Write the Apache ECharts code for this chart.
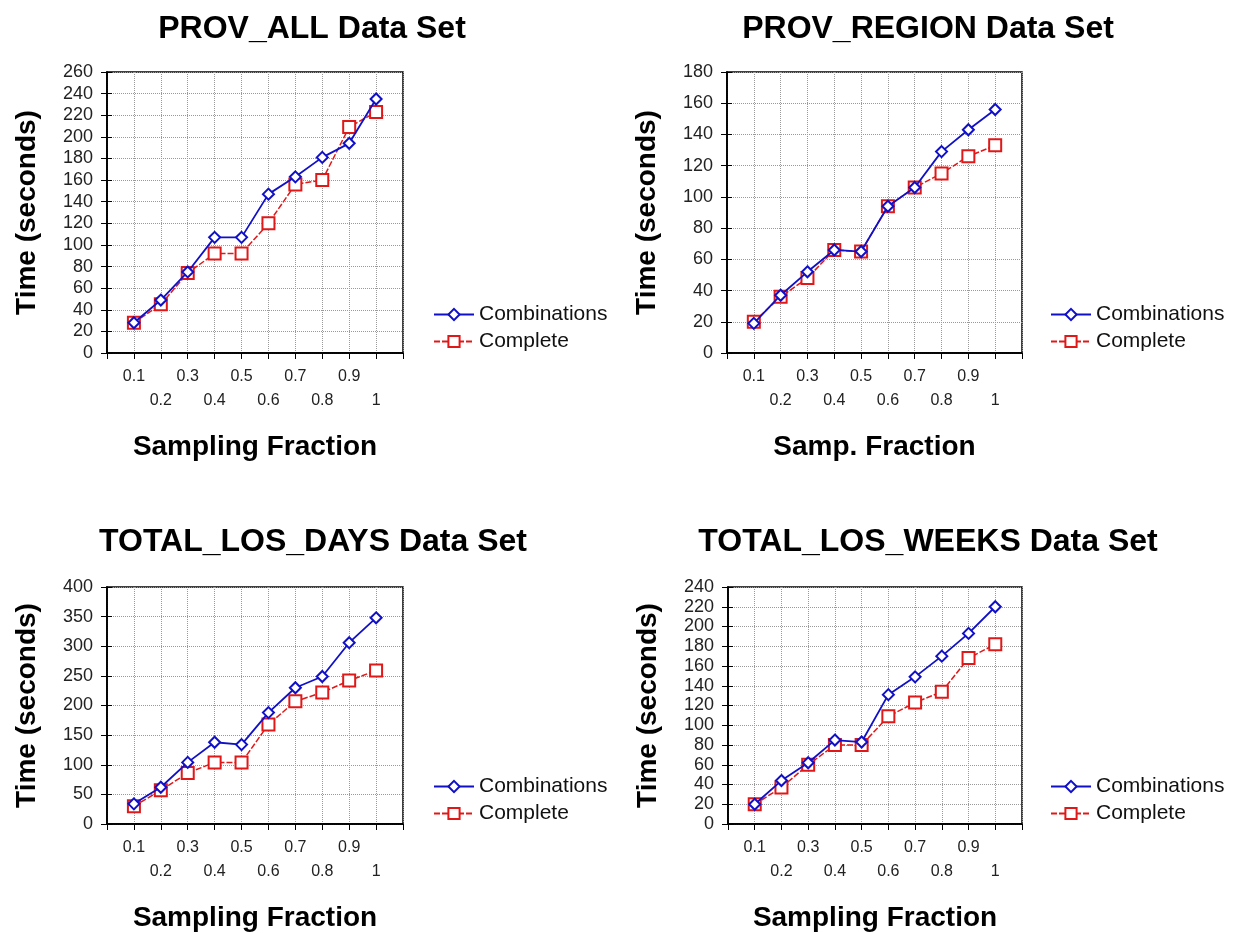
<!DOCTYPE html>
<html lang="en">

<head>
  <meta charset="UTF-8">
  <title>Sampling fraction timings</title>
  <style>
    * {
      margin: 0;
      padding: 0;
      box-sizing: border-box;
    }

    body {
      background-color: #fff;
    }

    .chart {
      width: 1235px;
      height: 933px;
    }
  </style>
</head>

<body>
  <div id="chart" class="chart"></div>
  <script src="https://cdn.jsdelivr.net/npm/echarts@6/dist/echarts.min.js"></script>
  <script>
    const fractions = [0.1, 0.2, 0.3, 0.4, 0.5, 0.6, 0.7, 0.8, 0.9, 1.0]
    const seriesNames = ['Combinations', 'Complete']

    const provAllComb = [28, 49, 75, 107, 107, 147, 163, 181, 194, 235]
    const provAllComp = [28, 45, 74, 92, 92, 120, 156, 160, 209, 223]
    const provRegionComb = [19, 37, 52, 66, 65, 94, 106, 129, 143, 156]
    const provRegionComp = [20, 36, 48, 66, 65, 94, 106, 115, 126, 133]
    const losDaysComb = [34, 62, 104, 138, 134, 188, 230, 249, 306, 348]
    const losDaysComp = [30, 57, 86, 104, 104, 168, 207, 222, 242, 259]
    const losWeeksComb = [20, 44, 62, 85, 83, 131, 149, 170, 193, 220]
    const losWeeksComp = [20, 37, 60, 80, 80, 109, 123, 134, 168, 182]

    const font = "'Liberation Sans', Arial, sans-serif"

    // one entry per panel
    const panels = [
      { title: 'PROV_ALL Data Set', xName: 'Sampling Fraction', comb: provAllComb, comp: provAllComp,
        yMax: 260, yStep: 20, grid: [107, 72, 296, 281], titleX: 307, titleY: 8, legend: [428, 299] },
      { title: 'PROV_REGION Data Set', xName: 'Samp. Fraction', comb: provRegionComb, comp: provRegionComp,
        yMax: 180, yStep: 20, grid: [727, 72, 295, 281], titleX: 923, titleY: 8, legend: [1045, 299] },
      { title: 'TOTAL_LOS_DAYS Data Set', xName: 'Sampling Fraction', comb: losDaysComb, comp: losDaysComp,
        yMax: 400, yStep: 50, grid: [107, 587, 296, 238], titleX: 308, titleY: 521, legend: [428, 771] },
      { title: 'TOTAL_LOS_WEEKS Data Set', xName: 'Sampling Fraction', comb: losWeeksComb, comp: losWeeksComp,
        yMax: 240, yStep: 20, grid: [728, 587, 294, 238], titleX: 923, titleY: 521, legend: [1045, 771] }
    ]

    const splitLine = { show: true, lineStyle: { color: '#999', type: 'dotted', width: 1 } }

    const options = { animation: false, title: [], grid: [], xAxis: [], yAxis: [], legend: [], series: [] }

    panels.forEach(function (p, i) {
      options.title.push({
        text: p.title,
        left: p.titleX,
        top: p.titleY,
        textAlign: 'center',
        textStyle: { fontFamily: font, fontSize: 32, fontWeight: 'bold', color: '#000' }
      })
      options.grid.push({
        left: p.grid[0], top: p.grid[1], width: p.grid[2], height: p.grid[3],
        show: true, borderColor: '#000', borderWidth: 1.5, backgroundColor: '#fff'
      })
      // bottom axis with staggered labels
      options.xAxis.push({
        type: 'value', gridIndex: i, min: 0, max: 1.1, interval: 0.1,
        name: p.xName, nameLocation: 'middle', nameGap: 80,
        nameTextStyle: { fontFamily: font, fontSize: 28, fontWeight: 'bold', color: '#000' },
        axisLine: { lineStyle: { color: '#000', width: 1.5 } },
        axisTick: { inside: false, length: 5, lineStyle: { color: '#000' } },
        splitLine: splitLine,
        axisLabel: {
          margin: 12, fontFamily: font, fontSize: 16, color: '#222', lineHeight: 24,
          formatter: function (v) {
            const k = Math.round(v * 10)
            if (k < 1 || k > 10) return ''
            const s = k === 10 ? '1' : (k / 10).toFixed(1)
            return k % 2 ? s : '\n' + s
          }
        }
      })
      // top axis: ticks only
      options.xAxis.push({
        type: 'value', gridIndex: i, position: 'top', min: 0, max: 1.1, interval: 0.1,
        axisLine: { lineStyle: { color: '#000', width: 1.5 } },
        axisTick: { inside: true, length: 6, lineStyle: { color: '#000' } },
        axisLabel: { show: false }, splitLine: { show: false }
      })
      options.yAxis.push({
        type: 'value', gridIndex: i, min: 0, max: p.yMax, interval: p.yStep,
        name: 'Time (seconds)', nameLocation: 'middle', nameGap: 66,
        nameTextStyle: { fontFamily: font, fontSize: 28, fontWeight: 'bold', color: '#000' },
        axisLine: { show: true, lineStyle: { color: '#000', width: 1.5 } },
        axisTick: { show: true, inside: true, length: 5, lineStyle: { color: '#000' } },
        splitLine: splitLine,
        axisLabel: { margin: 14, fontFamily: font, fontSize: 18, color: '#222' }
      })
      options.yAxis.push({
        type: 'value', gridIndex: i, position: 'right', min: 0, max: p.yMax, interval: p.yStep,
        axisLine: { show: true, lineStyle: { color: '#000', width: 1.5 } },
        axisTick: { show: true, inside: true, length: 6, lineStyle: { color: '#000' } },
        axisLabel: { show: false }, splitLine: { show: false }
      })
      options.series.push({
        name: seriesNames[0], type: 'line', xAxisIndex: i * 2, yAxisIndex: i * 2,
        data: fractions.map(function (f, j) { return [f, p.comb[j]] }),
        symbol: 'emptyDiamond', symbolSize: 11, color: '#1010c8',
        itemStyle: { color: '#1010c8', borderWidth: 1.5 },
        lineStyle: { color: '#1010c8', width: 1.8 }, z: 3
      })
      options.series.push({
        name: seriesNames[1], type: 'line', xAxisIndex: i * 2, yAxisIndex: i * 2,
        data: fractions.map(function (f, j) { return [f, p.comp[j]] }),
        symbol: 'emptyRect', symbolSize: 12, color: '#e01818',
        itemStyle: { color: '#e01818', borderWidth: 1.8 },
        lineStyle: { color: '#e01818', width: 1.5, type: [6, 2] }, z: 2
      })
      options.legend.push({
        orient: 'vertical', left: p.legend[0], top: p.legend[1],
        itemWidth: 40, itemHeight: 14, itemGap: 6,
        data: seriesNames,
        textStyle: { fontFamily: font, fontSize: 21, color: '#111' }
      })
    })

    const chart = echarts.init(document.querySelector('#chart'))
    chart.setOption(options)
  </script>
</body>

</html>
